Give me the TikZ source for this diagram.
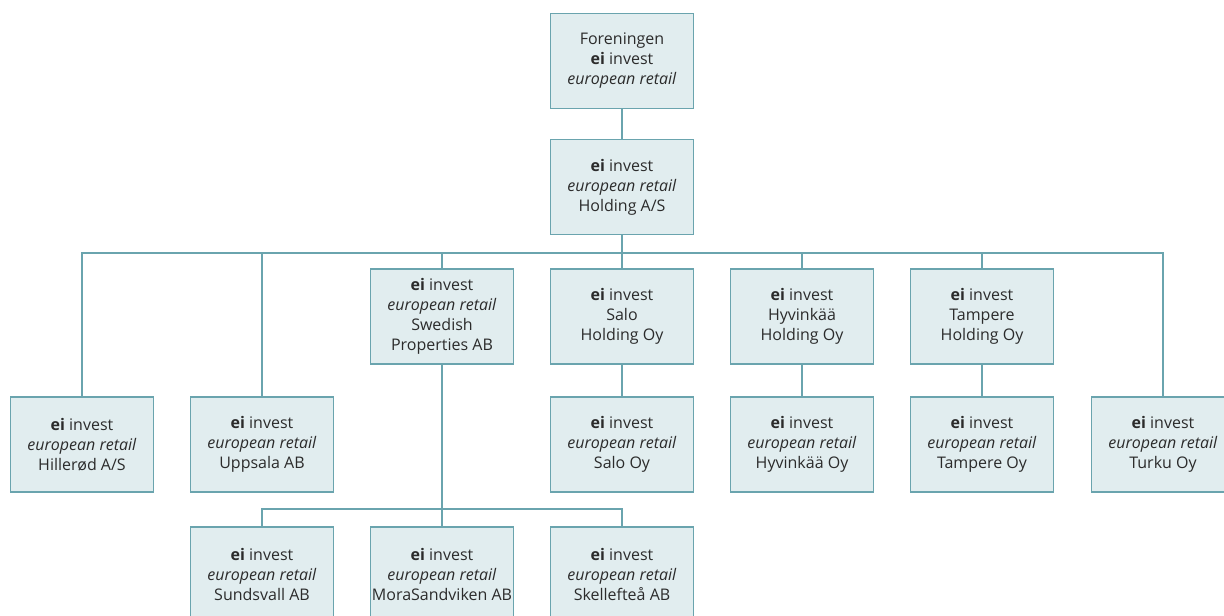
\documentclass[tikz,border=0pt]{standalone}
\usepackage{fontspec}
\setmainfont{Open Sans}
\definecolor{boxfill}{HTML}{E1EDEF}
\definecolor{boxline}{HTML}{6AA4AE}
\definecolor{txt}{HTML}{2B2B2B}
\begin{document}
\begin{tikzpicture}[x=1pt,y=-1pt,
  org/.style={draw=boxline, fill=boxfill, line width=1.3pt, minimum width=143pt, minimum height=95pt,
    inner sep=0pt, align=center, text=txt, font=\fontsize{16}{20}\selectfont},
  link/.style={draw=boxline, line width=1.3pt}]
\useasboundingbox (0,0) rectangle (1224,616);
\clip (0,0) rectangle (1224,616);
\node[org] (top) at (622,61) {Foreningen\\\textbf{ei} invest\\\textit{european retail}};
\node[org] (hold) at (622,187) {\textbf{ei} invest\\\textit{european retail}\\Holding A/S};
\node[org] (swe) at (442,316.5) {\textbf{ei} invest\\\textit{european retail}\\Swedish\\Properties AB};
\node[org] (salo) at (622,316.5) {\textbf{ei} invest\\Salo\\Holding Oy};
\node[org] (hyv) at (802,316.5) {\textbf{ei} invest\\Hyvinkää\\Holding Oy};
\node[org] (tam) at (982,316.5) {\textbf{ei} invest\\Tampere\\Holding Oy};
\node[org] (hil) at (82,444.5) {\textbf{ei} invest\\\textit{european retail}\\Hillerød A/S};
\node[org] (upp) at (262,444.5) {\textbf{ei} invest\\\textit{european retail}\\Uppsala AB};
\node[org] (saloy) at (622,444.5) {\textbf{ei} invest\\\textit{european retail}\\Salo Oy};
\node[org] (hyvoy) at (802,444.5) {\textbf{ei} invest\\\textit{european retail}\\Hyvinkää Oy};
\node[org] (tamoy) at (982,444.5) {\textbf{ei} invest\\\textit{european retail}\\Tampere Oy};
\node[org] (tur) at (1163,444.5) {\textbf{ei} invest\\\textit{european retail}\\Turku Oy};
\node[org] (sun) at (262,574.5) {\textbf{ei} invest\\\textit{european retail}\\Sundsvall AB};
\node[org] (mora) at (442,574.5) {\textbf{ei} invest\\\textit{european retail}\\MoraSandviken AB};
\node[org] (ske) at (622,574.5) {\textbf{ei} invest\\\textit{european retail}\\Skellefteå AB};
\coordinate (bus) at (622,253);
\coordinate (bus2) at (442,509);
\draw[link] (top.south) -- (hold.north);
\foreach \c in {hil,upp,swe,salo,hyv,tam,tur}{
  \draw[link] (hold.south) -- (bus) -| (\c.north);
}
\foreach \c in {sun,mora,ske}{
  \draw[link] (swe.south) -- (bus2) -| (\c.north);
}
\draw[link] (salo.south) -- (saloy.north);
\draw[link] (hyv.south) -- (hyvoy.north);
\draw[link] (tam.south) -- (tamoy.north);
\end{tikzpicture}
\end{document}
